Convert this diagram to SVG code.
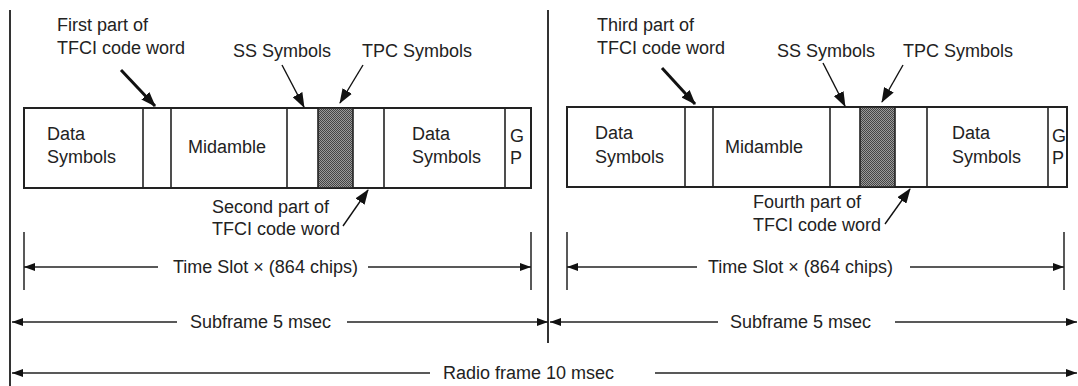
<svg xmlns="http://www.w3.org/2000/svg" width="1078" height="386" viewBox="0 0 1078 386">
<style>
text{font-family:"Liberation Sans",Arial,sans-serif;font-size:18px;fill:#222}
.bx{fill:#fff;stroke:#222;stroke-width:2}
.dv{stroke:#222;stroke-width:1.6;fill:none}
.fr{stroke:#333;stroke-width:2;fill:none}
.ar{stroke:#111;stroke-width:1.4;fill:none;marker-end:url(#ah)}
.art{stroke:#111;stroke-width:3;fill:none;marker-end:url(#ah)}
.dm{stroke:#222;stroke-width:1.5;fill:none}
.dl{marker-start:url(#dh)}
.dr{marker-end:url(#dh)}
</style>
<defs>
<marker id="ah" markerUnits="userSpaceOnUse" markerWidth="15" markerHeight="11" refX="14" refY="5.5" orient="auto"><path d="M0,0 L15,5.5 L0,11 z" fill="#111"/></marker>
<marker id="dh" markerUnits="userSpaceOnUse" markerWidth="11" markerHeight="8" refX="11" refY="4" orient="auto-start-reverse"><path d="M0,0 L11,4 L0,8 z" fill="#111"/></marker>
<pattern id="dots" width="2" height="2" patternUnits="userSpaceOnUse"><rect width="2" height="2" fill="#9a9a9a"/><rect width="1" height="1" fill="#444"/><rect x="1" y="1" width="1" height="1" fill="#444"/></pattern>
</defs>

<g id="frame-lines">
<line class="fr" x1="10" y1="10" x2="10" y2="386"/>
<line class="fr" x1="548" y1="10" x2="548" y2="343"/>
</g>

<g id="slot1">
<rect class="bx" x="24" y="108" width="507" height="80"/>
<rect x="318" y="108" width="35" height="80" fill="url(#dots)" stroke="#222" stroke-width="1.6"/>
<line class="dv" x1="143" y1="108" x2="143" y2="188"/>
<line class="dv" x1="171" y1="108" x2="171" y2="188"/>
<line class="dv" x1="287" y1="108" x2="287" y2="188"/>
<line class="dv" x1="384" y1="108" x2="384" y2="188"/>
<line class="dv" x1="505" y1="108" x2="505" y2="188"/>
<text x="47" y="140">Data</text>
<text x="47" y="163">Symbols</text>
<text x="188" y="153">Midamble</text>
<text x="412" y="140">Data</text>
<text x="412" y="163">Symbols</text>
<text x="510" y="142">G</text>
<text x="510" y="164">P</text>
</g>

<g id="slot2">
<rect class="bx" x="567" y="107" width="500" height="80"/>
<rect x="860" y="107" width="35" height="80" fill="url(#dots)" stroke="#222" stroke-width="1.6"/>
<line class="dv" x1="685" y1="107" x2="685" y2="187"/>
<line class="dv" x1="713" y1="107" x2="713" y2="187"/>
<line class="dv" x1="830" y1="107" x2="830" y2="187"/>
<line class="dv" x1="927" y1="107" x2="927" y2="187"/>
<line class="dv" x1="1048" y1="107" x2="1048" y2="187"/>
<text x="595" y="139">Data</text>
<text x="595" y="163">Symbols</text>
<text x="725" y="153">Midamble</text>
<text x="952" y="139">Data</text>
<text x="952" y="163">Symbols</text>
<text x="1052" y="142">G</text>
<text x="1052" y="164">P</text>
</g>

<g id="labels">
<text x="57" y="31">First part of</text>
<text x="57" y="54">TFCI code word</text>
<text x="233" y="57">SS Symbols</text>
<text x="362" y="57">TPC Symbols</text>
<text x="212" y="213">Second part of</text>
<text x="212" y="235">TFCI code word</text>
<text x="597" y="31">Third part of</text>
<text x="597" y="54">TFCI code word</text>
<text x="777" y="57">SS Symbols</text>
<text x="903" y="57">TPC Symbols</text>
<text x="753" y="208">Fourth part of</text>
<text x="753" y="231">TFCI code word</text>
</g>

<g id="connectors">
<line class="art" x1="121" y1="70" x2="155" y2="106"/>
<line class="ar" x1="282" y1="65" x2="304" y2="107"/>
<line class="ar" x1="363" y1="65" x2="340" y2="103"/>
<line class="ar" x1="343" y1="226" x2="368" y2="190"/>
<line class="art" x1="662" y1="68" x2="695" y2="104"/>
<line class="ar" x1="823" y1="63" x2="845" y2="106"/>
<line class="ar" x1="903" y1="65" x2="882" y2="102"/>
<line class="ar" x1="885" y1="224" x2="910" y2="189"/>
</g>

<g id="dimensions">
<line class="dm" x1="24" y1="232" x2="24" y2="290"/>
<line class="dm" x1="531" y1="232" x2="531" y2="290"/>
<line class="dm dl" x1="24" y1="267" x2="158" y2="267"/>
<line class="dm dr" x1="368" y1="267" x2="531" y2="267"/>
<text x="173" y="273">Time Slot × (864 chips)</text>

<line class="dm" x1="567" y1="232" x2="567" y2="290"/>
<line class="dm" x1="1064" y1="232" x2="1064" y2="290"/>
<line class="dm dl" x1="567" y1="267" x2="697" y2="267"/>
<line class="dm dr" x1="910" y1="267" x2="1064" y2="267"/>
<text x="708" y="273">Time Slot × (864 chips)</text>

<line class="dm dl" x1="12" y1="322" x2="177" y2="322"/>
<line class="dm dr" x1="347" y1="322" x2="548" y2="322"/>
<text x="190" y="328">Subframe 5 msec</text>
<line class="dm dl" x1="550" y1="322" x2="718" y2="322"/>
<line class="dm dr" x1="895" y1="322" x2="1077" y2="322"/>
<text x="730" y="328">Subframe 5 msec</text>

<line class="dm dl" x1="12" y1="373" x2="430" y2="373"/>
<line class="dm dr" x1="655" y1="373" x2="1077" y2="373"/>
<text x="443" y="379">Radio frame 10 msec</text>
</g>
</svg>
